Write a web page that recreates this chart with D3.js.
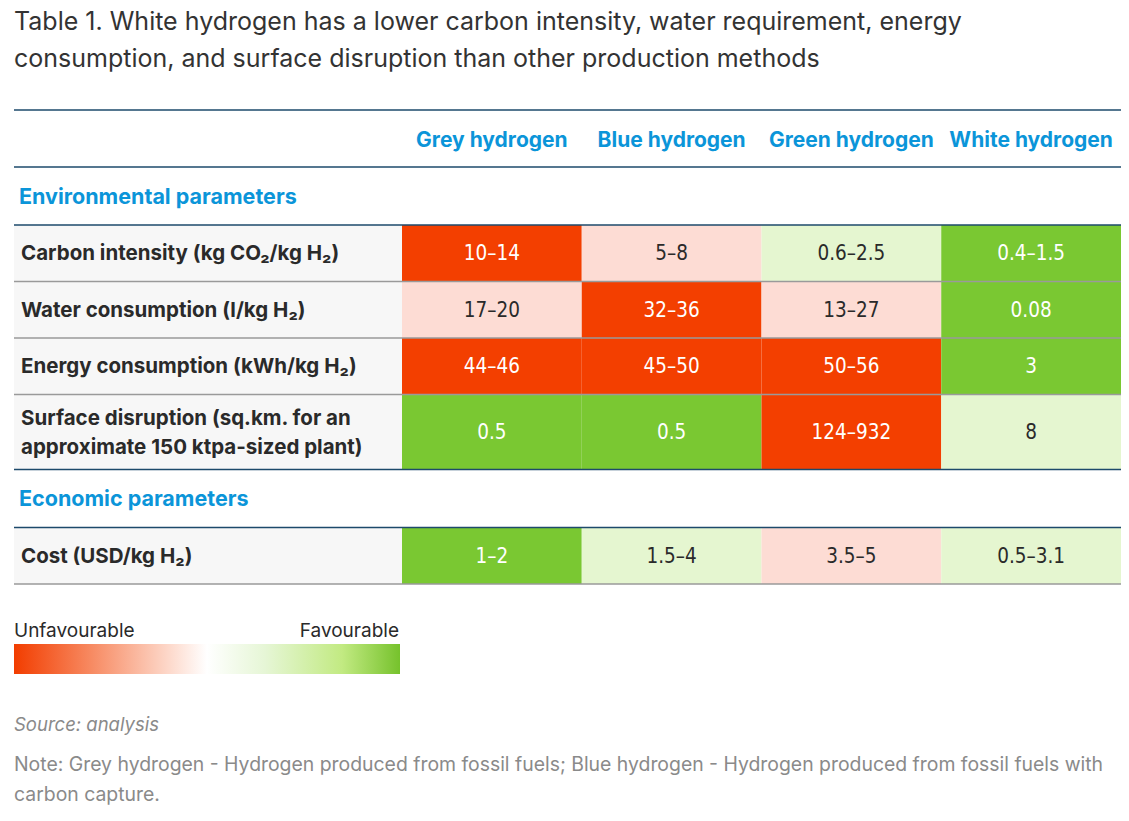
<!DOCTYPE html>
<html>
<head>
<meta charset="utf-8">
<script src="https://cdn.jsdelivr.net/npm/d3@7"></script>
<style>
  body { margin: 0; background: #fff; }
  svg { display: block; font-family: Inter, "Noto Sans", sans-serif; }
</style>
</head>
<body>
<div id="chart"></div>
<script>
// table data
const titleLines = [
  "Table 1. White hydrogen has a lower carbon intensity, water requirement, energy",
  "consumption, and surface disruption than other production methods"
];
const columns = ["Grey hydrogen", "Blue hydrogen", "Green hydrogen", "White hydrogen"];
const sections = ["Environmental parameters", "Economic parameters"];
const rowLabels = [
  ["Carbon intensity (kg CO₂/kg H₂)"],
  ["Water consumption (l/kg H₂)"],
  ["Energy consumption (kWh/kg H₂)"],
  ["Surface disruption (sq.km. for an", "approximate 150 ktpa-sized plant)"],
  ["Cost (USD/kg H₂)"]
];
const rowSection = [0, 0, 0, 0, 1];
const cellValues = [
  ["10–14", "5–8", "0.6–2.5", "0.4–1.5"],
  ["17–20", "32–36", "13–27", "0.08"],
  ["44–46", "45–50", "50–56", "3"],
  ["0.5", "0.5", "124–932", "8"],
  ["1–2", "1.5–4", "3.5–5", "0.5–3.1"]
];
// -2 very unfavourable ... 2 very favourable
const ratings = [
  [-2, -1, 1, 2],
  [-1, -2, -1, 2],
  [-2, -2, -2, 2],
  [2, 2, -2, 1],
  [2, 1, -1, 1]
];
const legendLabels = ["Unfavourable", "Favourable"];
const sourceText = "Source: analysis";
const noteLines = [
  "Note: Grey hydrogen - Hydrogen produced from fossil fuels; Blue hydrogen - Hydrogen produced from fossil fuels with",
  "carbon capture."
];

const width = 1129, height = 821;
const left = 14, right = 1121, labelW = 388;
const blue = "#0b95d9", navy = "#1d4a6b", ink = "#2a2a2a", grey = "#8a8a8a";

const svg = d3.select("#chart").append("svg")
    .attr("width", width)
    .attr("height", height);

// title
svg.append("g").selectAll("text")
    .data(titleLines)
    .join("text")
    .attr("x", left)
    .attr("y", (d, i) => 30 + i * 37)
    .style("font-size", "25px")
    .style("fill", "#333")
    .text(d => d);

// scales
const x = d3.scaleBand()
    .domain(columns)
    .range([left + labelW, right]);

const color = d3.scaleOrdinal()
    .domain([-2, -1, 1, 2])
    .range(["#f33f00", "#fddcd4", "#e5f6d0", "#7ac832"]);

// build the row layout: header, section rows and data rows stacked
let layout = [{type: "header", h: 57}];
rowLabels.forEach((lab, i) => {
  if (i === 0 || rowSection[i] !== rowSection[i - 1]) {
    layout.push({type: "section", h: 58, text: sections[rowSection[i]]});
  }
  layout.push({type: "row", h: lab.length > 1 ? 75 : 56.5, i: i,
               last: i === rowLabels.length - 1 || rowSection[i + 1] !== rowSection[i]});
});
let yy = 110;
layout.forEach(d => { d.y = yy; yy += d.h; });

const table = svg.append("g");

// header
const header = layout[0];
table.selectAll(".colhead")
    .data(columns)
    .join("text")
    .attr("class", "colhead")
    .attr("x", d => x(d) + x.bandwidth() / 2)
    .attr("y", header.y + header.h / 2 + 1)
    .attr("dy", "0.35em")
    .attr("text-anchor", "middle")
    .style("font-size", "21px")
    .style("font-weight", 700)
    .style("fill", blue)
    .text(d => d);

// section titles
table.selectAll(".section")
    .data(layout.filter(d => d.type === "section"))
    .join("text")
    .attr("class", "section")
    .attr("x", left + 5)
    .attr("y", d => d.y + d.h / 2)
    .attr("dy", "0.35em")
    .style("font-size", "21.5px")
    .style("font-weight", 700)
    .style("fill", blue)
    .text(d => d.text);

// data rows
const rows = table.selectAll(".row")
    .data(layout.filter(d => d.type === "row"))
    .join("g")
    .attr("class", "row")
    .attr("transform", d => `translate(0,${d.y})`);

rows.append("rect")
    .attr("x", left)
    .attr("width", labelW)
    .attr("height", d => d.h)
    .attr("fill", "#f7f7f7");

rows.each(function(r) {
  const g = d3.select(this);
  const cells = g.selectAll(".cell")
      .data(columns.map((c, j) => ({col: c, v: cellValues[r.i][j], rate: ratings[r.i][j]})))
      .join("g")
      .attr("class", "cell");
  cells.append("rect")
      .attr("x", d => x(d.col))
      .attr("width", x.bandwidth())
      .attr("height", r.h)
      .attr("fill", d => color(d.rate));
  cells.append("text")
      .attr("x", d => x(d.col) + x.bandwidth() / 2)
      .attr("y", r.h / 2)
      .attr("dy", "0.35em")
      .attr("text-anchor", "middle")
      .style("font-family", "'Liberation Sans Narrow', 'DejaVu Sans Condensed', Roboto, sans-serif")
      .style("font-size", "20.5px")
      .style("fill", d => Math.abs(d.rate) === 2 ? "#fff" : ink)
      .text(d => d.v);

  const lab = rowLabels[r.i];
  g.selectAll(".label")
      .data(lab)
      .join("text")
      .attr("class", "label")
      .attr("x", left + 7)
      .attr("y", (d, k) => r.h / 2 + (k - (lab.length - 1) / 2) * 29)
      .attr("dy", "0.35em")
      .style("font-size", "20.5px")
      .style("font-weight", 700)
      .style("fill", ink)
      .text(d => d);
});

// rules
const rules = [];
layout.forEach((d, k) => {
  if (d.type === "header") { rules.push({y: d.y, c: navy}); rules.push({y: d.y + d.h, c: navy}); }
  if (d.type === "section") rules.push({y: d.y + d.h, c: navy});
  if (d.type === "row") rules.push({y: d.y + d.h, c: (d.last && k < layout.length - 1) ? navy : "#9a9a9a"});
});
table.selectAll(".rule")
    .data(rules)
    .join("line")
    .attr("class", "rule")
    .attr("x1", left)
    .attr("x2", right)
    .attr("y1", d => d.y)
    .attr("y2", d => d.y)
    .attr("stroke", d => d.c)
    .attr("stroke-width", 1.5);

// legend
const legW = 386, legY = 644;
const grad = svg.append("defs").append("linearGradient")
    .attr("id", "fav");
grad.selectAll("stop")
    .data([
      [0, "#f23d00"], [0.2, "#f78a62"], [0.4, "#fdd8ca"], [0.5, "#ffffff"],
      [0.65, "#e6f6d6"], [0.85, "#c2ea82"], [1, "#76c22c"]
    ])
    .join("stop")
    .attr("offset", d => d[0])
    .attr("stop-color", d => d[1]);

svg.append("rect")
    .attr("x", left)
    .attr("y", legY)
    .attr("width", legW)
    .attr("height", 30)
    .attr("fill", "url(#fav)");

svg.selectAll(".leglab")
    .data(legendLabels)
    .join("text")
    .attr("class", "leglab")
    .attr("x", (d, i) => i ? left + legW - 1 : left)
    .attr("y", legY - 7)
    .attr("text-anchor", (d, i) => i ? "end" : "start")
    .style("font-size", "19px")
    .style("fill", ink)
    .text(d => d);

// source and note
svg.append("text")
    .attr("x", left)
    .attr("y", 731)
    .style("font-size", "18.5px")
    .style("font-style", "italic")
    .style("fill", grey)
    .text(sourceText);

svg.selectAll(".note")
    .data(noteLines)
    .join("text")
    .attr("class", "note")
    .attr("x", left)
    .attr("y", (d, i) => 771 + i * 30)
    .style("font-size", "19.4px")
    .style("fill", grey)
    .text(d => d);
</script>
</body>
</html>
